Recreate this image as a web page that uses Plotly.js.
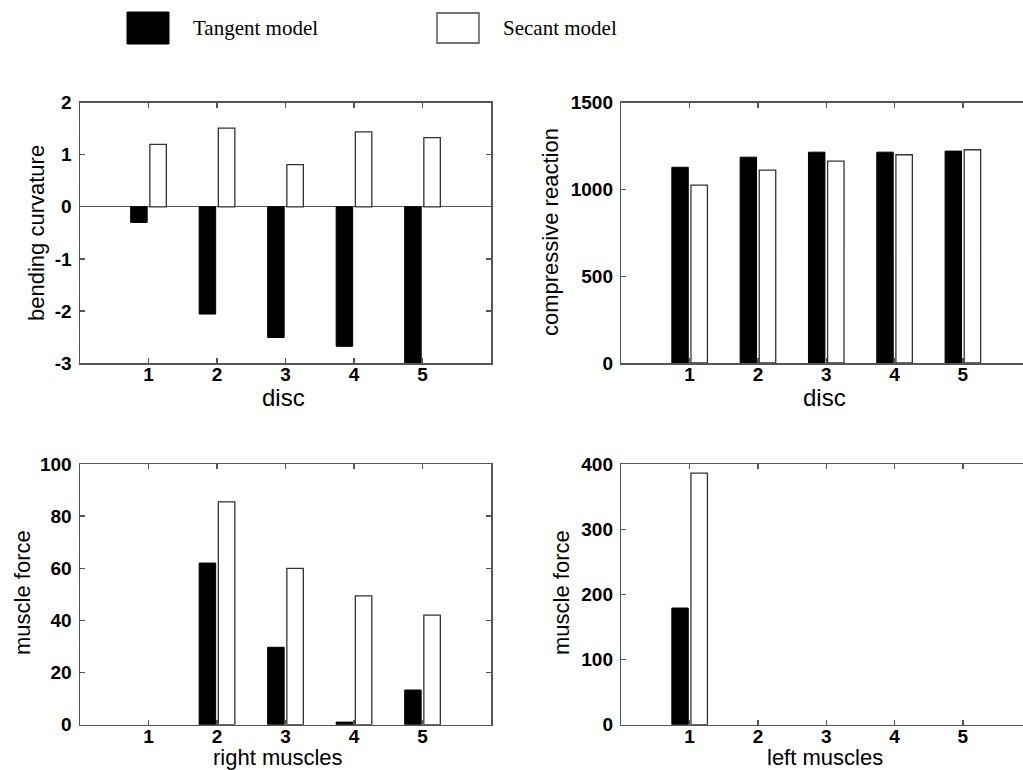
<!DOCTYPE html>
<html>
<head>
<meta charset="utf-8">
<script src="https://cdn.plot.ly/plotly-3.0.1.min.js"></script>
<style>html,body{margin:0;padding:0;background:#fff;}#chart{width:1023px;height:770px;}</style>
</head>
<body>
<div id="chart"></div>
<script>
// ---- data ----
const positions = [1, 2, 3, 4, 5];
const xTickLabels = ['1', '2', '3', '4', '5'];
const seriesNames = ['Tangent model', 'Secant model'];

const curvatureTicks = [-3, -2, -1, 0, 1, 2];
const curvatureTickLabels = ['-3', '-2', '-1', '0', '1', '2'];
const curvatureTangent = [-0.30, -2.06, -2.51, -2.68, -3.00];
const curvatureSecant  = [1.20, 1.51, 0.81, 1.44, 1.33];

const compressionTangent = [1128, 1186, 1215, 1215, 1221];
const compressionSecant  = [1025, 1111, 1163, 1200, 1229];

const rightMuscleTangent = [0, 62, 29.7, 1, 13.3];
const rightMuscleSecant  = [0, 85.5, 60, 49.4, 42];

const leftMuscleTangent = [179, 0, 0, 0, 0];
const leftMuscleSecant  = [386, 0, 0, 0, 0];

const titles = {
  curvature: 'bending curvature', compression: 'compressive reaction',
  force: 'muscle force', disc: 'disc', right: 'right muscles', left: 'left muscles'
};

// ---- styling ----
const W = 1023, H = 770;
const px = v => v / W;
const py = v => 1 - v / H;
const axisColor = '#555555';
const sans = 'Liberation Sans, Arial, Helvetica, sans-serif';
const tickFont = {family: sans, size: 19, color: '#000', weight: 'bold'};
const xTitleFont = {family: sans, size: 24, color: '#000'};
const yTitleFont = {family: sans, size: 22, color: '#000'};

function lineWidths(vals, w) { return vals.map(v => (v === 0 ? 0 : w)); }

function barPair(x, yT, yS, xa, ya) {
  return [
    {type: 'bar', x: x, y: yT, name: seriesNames[0], xaxis: xa, yaxis: ya, showlegend: false,
     marker: {color: '#000000', line: {color: '#000000', width: lineWidths(yT, 1)}}},
    {type: 'bar', x: x, y: yS, name: seriesNames[1], xaxis: xa, yaxis: ya, showlegend: false,
     marker: {color: '#ffffff', line: {color: '#333333', width: lineWidths(yS, 1.3)}}}
  ];
}

const data = [].concat(
  barPair(positions, curvatureTangent, curvatureSecant, 'x', 'y'),
  barPair(positions, compressionTangent, compressionSecant, 'x2', 'y2'),
  barPair(positions, rightMuscleTangent, rightMuscleSecant, 'x3', 'y3'),
  barPair(positions, leftMuscleTangent, leftMuscleSecant, 'x4', 'y4')
);

function xAxis(domain, range, anchor) {
  return {
    domain: domain, range: range, anchor: anchor,
    tickmode: 'array', tickvals: positions, ticktext: xTickLabels,
    ticks: 'inside', ticklen: 5, tickcolor: axisColor, tickwidth: 1.3,
    ticklabelstandoff: -6,
    showline: true, linecolor: axisColor, linewidth: 1.5, mirror: 'ticks',
    showgrid: false, zeroline: false, tickfont: tickFont, fixedrange: true
  };
}
function yAxis(domain, range, anchor, mirror, extra) {
  return Object.assign({
    domain: domain, range: range, anchor: anchor,
    ticks: 'inside', ticklen: 5, tickcolor: axisColor, tickwidth: 1.3,
    ticklabelstandoff: 3,
    showline: true, linecolor: axisColor, linewidth: 1.5, mirror: mirror,
    showgrid: false, zeroline: false,
    tickfont: tickFont, fixedrange: true
  }, extra);
}

const topY = [py(363), py(102.7)];
const botY = [py(724.7), py(464)];
const leftX = [px(80), px(491)];
const rightX = [px(621.3), 1];

function title(text, x, y, vertical, size) {
  const f = Object.assign({}, vertical ? yTitleFont : xTitleFont);
  if (size) f.size = size;
  return {xref: 'paper', yref: 'paper', x: px(x), y: py(y), xanchor: 'center', yanchor: 'middle',
          text: text, showarrow: false, textangle: vertical ? -90 : 0, font: f};
}

const layout = {
  width: W, height: H,
  margin: {l: 0, r: 0, t: 0, b: 0, pad: 0},
  paper_bgcolor: '#ffffff', plot_bgcolor: '#ffffff',
  barmode: 'group', bargap: 0.44, bargroupgap: 0.14,
  showlegend: false,
  xaxis:  xAxis(leftX,  [0, 6],    'y'),
  yaxis:  yAxis(topY,   [-3, 2],   'x', 'ticks',
                {tickmode: 'array', tickvals: curvatureTicks, ticktext: curvatureTickLabels,
                 zeroline: true, zerolinecolor: axisColor, zerolinewidth: 1.3}),
  xaxis2: xAxis(rightX, [0, 5.88], 'y2'),
  yaxis2: yAxis(topY,   [0, 1500], 'x2', false, {dtick: 500}),
  xaxis3: xAxis(leftX,  [0, 6],    'y3'),
  yaxis3: yAxis(botY,   [0, 100],  'x3', 'ticks', {dtick: 20}),
  xaxis4: xAxis(rightX, [0, 5.88], 'y4'),
  yaxis4: yAxis(botY,   [0, 400],  'x4', false, {dtick: 100}),
  shapes: [
    {type: 'rect', xref: 'paper', yref: 'paper', x0: px(127), x1: px(169), y0: py(44), y1: py(12),
     fillcolor: '#000000', line: {color: '#000000', width: 1}},
    {type: 'rect', xref: 'paper', yref: 'paper', x0: px(437), x1: px(479), y0: py(43), y1: py(13),
     fillcolor: '#ffffff', line: {color: '#444444', width: 1.3}}
  ],
  annotations: [
    {xref: 'paper', yref: 'paper', x: px(191), y: py(28), xanchor: 'left', yanchor: 'middle',
     text: seriesNames[0], showarrow: false,
     font: {family: 'Liberation Serif, Times New Roman, serif', size: 21, color: '#000'}},
    {xref: 'paper', yref: 'paper', x: px(501), y: py(28), xanchor: 'left', yanchor: 'middle',
     text: seriesNames[1], showarrow: false,
     font: {family: 'Liberation Serif, Times New Roman, serif', size: 21, color: '#000'}},
    title(titles.disc, 283, 398, false),
    title(titles.disc, 824, 398, false),
    title(titles.right, 278, 757.5, false, 22),
    title(titles.left, 825, 757.5, false, 22),
    title(titles.curvature, 37, 233, true),
    title(titles.compression, 550, 232, true),
    title(titles.force, 22, 593, true),
    title(titles.force, 561, 593, true)
  ]
};

Plotly.newPlot('chart', data, layout, {staticPlot: true, displayModeBar: false});
</script>
</body>
</html>
